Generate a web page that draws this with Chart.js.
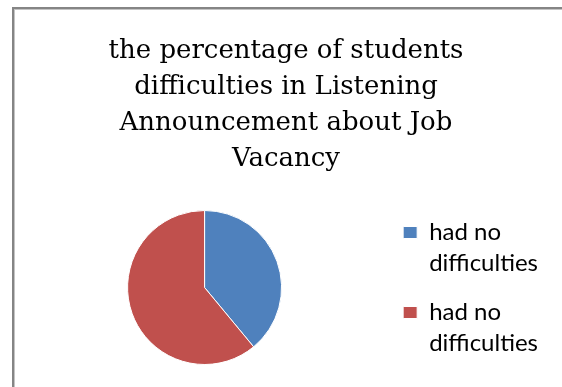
<!DOCTYPE html>
<html>
<head>
<meta charset="utf-8">
<script src="https://cdn.jsdelivr.net/npm/chart.js@4"></script>
<style>
  html, body { margin: 0; padding: 0; background: #fff; overflow: hidden; width: 562px; height: 387px; }
  #frame {
    position: absolute; left: 12px; top: 7px; width: 600px; height: 400px;
    border-left: 2px solid #858585; border-top: 2px solid #858585;
    box-shadow: inset 1px 1px 0 #c4c4c4;
  }
  #chart { position: absolute; left: 15px; top: 10px; }
</style>
</head>
<body>
<div id="frame"></div>
<canvas id="chart" width="547" height="377"></canvas>
<script>
// Chart text and values
const titleLines = [
  'the percentage of students',
  'difficulties in Listening',
  'Announcement about Job',
  'Vacancy'
];
const categories = [
  ['had no', 'difficulties'],
  ['had no', 'difficulties']
];
const shares = [39, 61];
const sliceColors = ['#4F81BD', '#C0504D'];

new Chart(document.getElementById('chart'), {
  type: 'pie',
  data: {
    labels: categories,
    datasets: [{
      data: shares,
      backgroundColor: sliceColors,
      borderColor: '#ffffff',
      borderWidth: 1,
      radius: 77
    }]
  },
  options: {
    responsive: false,
    animation: false,
    layout: { padding: { left: 9, right: 14, top: 0, bottom: 6.5 } },
    plugins: {
      title: {
        display: true,
        text: titleLines,
        color: '#000000',
        font: { family: 'DejaVu Serif', size: 26, weight: 'normal', lineHeight: '36px' },
        padding: { top: 23, bottom: 17.5 }
      },
      legend: {
        display: true,
        position: 'right',
        align: 'end',
        labels: {
          color: '#000000',
          font: { family: 'Lato', size: 24, lineHeight: '31px' },
          boxWidth: 14,
          boxHeight: 12,
          padding: 18
        }
      },
      tooltip: { enabled: false }
    }
  }
});
</script>
</body>
</html>
